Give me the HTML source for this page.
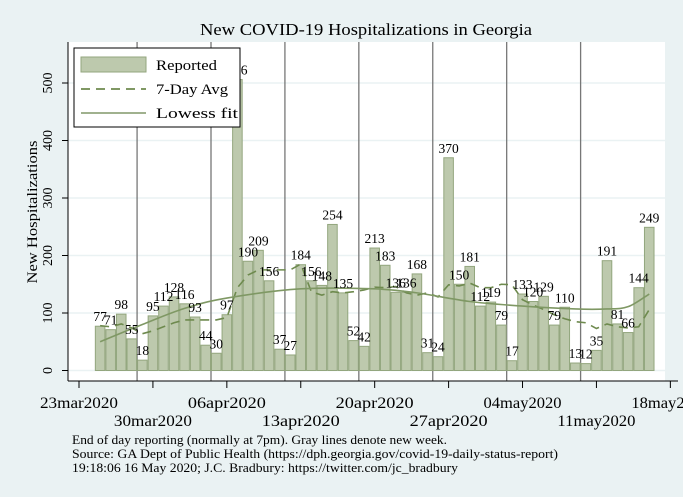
<!DOCTYPE html>
<html><head><meta charset="utf-8"><style>
body{margin:0;background:#eaf2f3;}
svg{display:block;font-family:"Liberation Serif",serif;}
</style></head><body>
<svg id="c" width="683" height="497">
<rect x="0" y="0" width="683" height="497" fill="#eaf2f3"/>
<rect x="68" y="42" width="597" height="339" fill="#ffffff"/>
<text x="366" y="35" text-anchor="middle" font-size="16.5" textLength="332" lengthAdjust="spacingAndGlyphs" fill="#000">New COVID-19 Hospitalizations in Georgia</text>
<text transform="translate(37,212) rotate(-90)" text-anchor="middle" font-size="15" textLength="143" lengthAdjust="spacingAndGlyphs" fill="#000">New Hospitalizations</text>
<g id="grid"></g><g id="weeks"></g><g id="bars"></g><g id="lines"></g><g id="labels"></g><g id="axes"></g>
<g>
<rect x="74" y="48" width="166" height="79" fill="#fff" stroke="#000" stroke-width="1"/>
<rect x="81" y="57" width="65" height="15" fill="#bdc9ad" stroke="#93a67e"/>
<text x="156" y="70" font-size="15" textLength="61" lengthAdjust="spacingAndGlyphs">Reported</text>
<line x1="81" y1="89" x2="146" y2="89" stroke="#6e8a4e" stroke-width="1.8" stroke-dasharray="9,6"/>
<text x="156" y="94" font-size="15" textLength="72" lengthAdjust="spacingAndGlyphs">7-Day Avg</text>
<line x1="81" y1="113" x2="146" y2="113" stroke="#93a67e" stroke-width="1.8"/>
<text x="156" y="118" font-size="15" textLength="82" lengthAdjust="spacingAndGlyphs">Lowess fit</text>
</g>
<g font-size="13">
<text x="72" y="444" textLength="375" lengthAdjust="spacingAndGlyphs">End of day reporting (normally at 7pm). Gray lines denote new week.</text>
<text x="72" y="458" textLength="486" lengthAdjust="spacingAndGlyphs">Source: GA Dept of Public Health (https://dph.georgia.gov/covid-19-daily-status-report)</text>
<text x="72" y="472" textLength="386" lengthAdjust="spacingAndGlyphs">19:18:06  16 May 2020; J.C. Bradbury: https://twitter.com/jc_bradbury</text>
</g>
</svg>
<script>
const reported=[77,71,98,55,18,95,112,128,116,93,44,30,97,506,190,209,156,37,27,184,156,148,254,135,52,42,213,183,136,136,168,31,24,370,150,181,112,119,79,17,133,120,129,79,110,13,12,35,191,81,66,144,249];
const avg7=[78,76,81,74,64,69,76,83,88,88,88,88,92,144,166,175,175,175,175,185,137,131,137,135,137,140,145,144,146,135,131,135,128,149,147,152,144,144,150,149,123,114,106,97,90,85,83,73,81,76,74,76,106];
const lowessDays=[0,4,8,12,19,26,30,35,40,45,48,50,52];
const lowessVals=[50,80,108,126,142,142,135,120,112,107,107,111,133];
const yTicks=[0,100,200,300,400,500];
const xTickLabels=["23mar2020","30mar2020","06apr2020","13apr2020","20apr2020","27apr2020","04may2020","11may2020","18may2020"];
const firstDayOffset=2; // first bar = 25mar2020, days after 23mar2020
const NS="http://www.w3.org/2000/svg";
const X0=79,DAY=10.56,Y0=370.5,YS=0.575;
const xs=d=>X0+DAY*(d+firstDayOffset);
const ys=v=>Y0-v*YS;
function mk(t,p,a){const e=document.createElementNS(NS,t);for(const k in a)e.setAttribute(k,a[k]);p.appendChild(e);return e;}
const grid=document.getElementById('grid'),axes=document.getElementById('axes');
yTicks.forEach(v=>{
 const g=mk('line',grid,{x1:68,x2:665,y1:ys(v),y2:ys(v),stroke:'#eaf2f3','stroke-width':1.5});
 
 
 mk('line',axes,{x1:62,x2:68,y1:ys(v),y2:ys(v),stroke:'#000'});
 const t=mk('text',axes,{transform:`translate(52,${ys(v)}) rotate(-90)`,'text-anchor':'middle','font-size':14});
 t.textContent=v;
 
 
});
mk('line',axes,{x1:68,x2:68,y1:42,y2:381,stroke:'#000'});
mk('line',axes,{x1:68,x2:678,y1:381,y2:381,stroke:'#000'});
xTickLabels.forEach((l,i)=>{
 const x=X0+DAY*7*i;
 mk('line',axes,{x1:x,x2:x,y1:381,y2:388,stroke:'#000'});
 const t=mk('text',axes,{x:x,y:i%2?426:408,'text-anchor':'middle','font-size':15.5,textLength:78,lengthAdjust:'spacingAndGlyphs'});
 t.textContent=l;
 
 
});
const weeks=document.getElementById('weeks');
for(let i=0;i<7;i++){
 const x=X0+DAY*(5.5+7*i);
 const l=mk('line',weeks,{x1:x,x2:x,y1:42,y2:381,stroke:'#777','stroke-width':1.3});
 
 
}
const bars=document.getElementById('bars'),labels=document.getElementById('labels');
reported.forEach((v,i)=>{
 const x=xs(i);
 const b=mk('rect',bars,{x:x-DAY/2+0.5,y:ys(v),width:DAY-1,height:v*YS,fill:'#bdc9ad',stroke:'#93a67e','stroke-width':1});
 
 
 const t=mk('text',labels,{x:x,y:ys(v)-5,'text-anchor':'middle','font-size':13.5});
 t.textContent=v;
 
 
});
const lines=document.getElementById('lines');
const ap=mk('polyline',lines,{points:avg7.map((v,i)=>xs(i)+','+ys(v)).join(' '),fill:'none',stroke:'#6e8a4e','stroke-width':1.6,'stroke-dasharray':'9,6'});


const pts=lowessDays.map((d,i)=>[xs(d),ys(lowessVals[i])]);
let dstr='M'+pts[0][0]+','+pts[0][1];
for(let i=0;i<pts.length-1;i++){const p0=pts[i-1]||pts[i],p1=pts[i],p2=pts[i+1],p3=pts[i+2]||p2;
 const c1=[p1[0]+(p2[0]-p0[0])/6,p1[1]+(p2[1]-p0[1])/6],c2=[p2[0]-(p3[0]-p1[0])/6,p2[1]-(p3[1]-p1[1])/6];
 dstr+=` C${c1} ${c2} ${p2}`;}
const lp=mk('path',lines,{d:dstr,fill:'none',stroke:'#7f9864','stroke-width':1.6});


</script>
</body></html>
